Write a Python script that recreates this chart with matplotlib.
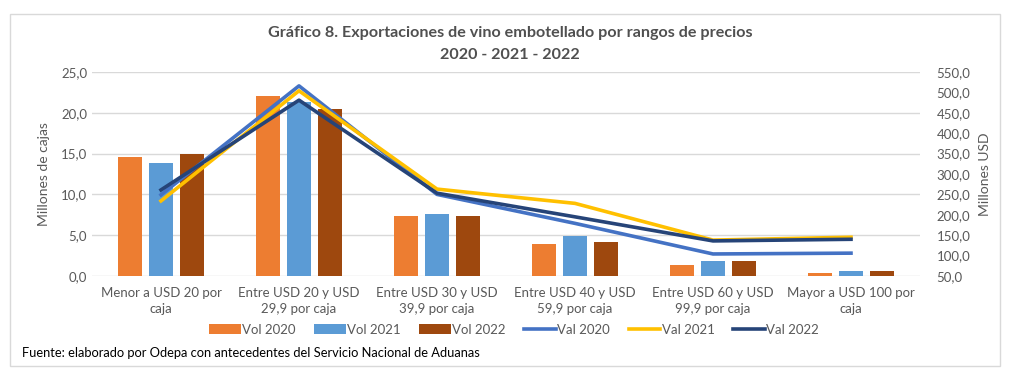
import matplotlib
matplotlib.use("Agg")
import matplotlib.pyplot as plt
import numpy as np
from matplotlib.patches import Rectangle

categories = ["Menor a USD 20 por\ncaja", "Entre USD 20 y USD\n29,9 por caja", "Entre USD 30 y USD\n39,9 por caja",
              "Entre USD 40 y USD\n59,9 por caja", "Entre USD 60 y USD\n99,9 por caja", "Mayor a USD 100 por\ncaja"]
vol_2020 = [14.6, 22.0, 7.3, 3.9, 1.35, 0.4]
vol_2021 = [13.8, 21.3, 7.6, 4.9, 1.8, 0.65]
vol_2022 = [14.9, 20.5, 7.3, 4.2, 1.8, 0.65]
val_2020 = [249, 516, 250, 179, 104, 106]
val_2021 = [234, 504, 263, 228, 138, 145]
val_2022 = [261, 481, 253, 195, 136, 140]

plt.rcParams['font.family'] = ['Lato', 'DejaVu Sans']
gray = '#595959'

fig = plt.figure(figsize=(10.24, 3.8), dpi=100)
fig.patches.append(Rectangle((10/1024, 14/380), 990/1024, 352/380, transform=fig.transFigure,
                             fill=False, edgecolor='#d9d9d9', linewidth=1))
ax = fig.add_axes([92/1024, 1-276/380, 828/1024, 204/380])
ax2 = ax.twinx()

x = np.arange(len(categories))
w = 0.175
off = 0.225
ax.bar(x - off, vol_2020, w, color='#ED7D31', label='Vol 2020', zorder=2)
ax.bar(x, vol_2021, w, color='#5B9BD5', label='Vol 2021', zorder=2)
ax.bar(x + off, vol_2022, w, color='#9E480E', label='Vol 2022', zorder=2)
ax.set_ylim(0, 25)
ax.set_yticks(np.arange(0, 25.1, 5))
ax.set_yticklabels([f"{v:.1f}".replace('.', ',') for v in np.arange(0, 25.1, 5)])
ax.grid(axis='y', color='#d9d9d9', linewidth=1, zorder=0)
ax.set_axisbelow(True)
ax.set_xlim(-0.5, len(categories) - 0.5)
ax.set_xticks(x)
ax.set_xticklabels(categories, fontsize=9.5, color=gray, linespacing=1.35)
ax.tick_params(axis='both', length=0, colors=gray, labelsize=9.5)
ax.tick_params(axis='x', pad=8)
ax.set_ylabel('Millones de cajas', fontsize=10, color=gray, labelpad=8)
for s in ax.spines.values():
    s.set_visible(False)

ax2.plot(x, val_2020, color='#4472C4', lw=2.6, label='Val 2020', zorder=3)
ax2.plot(x, val_2021, color='#FFC000', lw=2.6, label='Val 2021', zorder=3)
ax2.plot(x, val_2022, color='#264478', lw=2.6, label='Val 2022', zorder=3)
ax2.set_ylim(50, 550)
ticks2 = np.arange(50, 551, 50)
ax2.set_yticks(ticks2)
ax2.set_yticklabels([f"{v:.1f}".replace('.', ',') for v in ticks2])
ax2.tick_params(axis='y', length=0, colors=gray, labelsize=9.5, pad=12)
ax2.set_ylabel('Millones USD', fontsize=10, color=gray, labelpad=6)
for s in ax2.spines.values():
    s.set_visible(False)

fig.text(510/1024, 1-33/380, 'Gráfico 8. Exportaciones de vino embotellado por rangos de precios',
         ha='center', va='center', fontsize=11.6, fontweight='bold', color='#505050')
fig.text(510/1024, 1-55/380, '2020 - 2021 - 2022', ha='center', va='center',
         fontsize=11.6, fontweight='bold', color='#505050')

h1, l1 = ax.get_legend_handles_labels()
h2, l2 = ax2.get_legend_handles_labels()
fig.legend(h1 + h2, l1 + l2, loc='center', bbox_to_anchor=(514/1024, 1-330/380), ncol=6,
           frameon=False, fontsize=9.5, labelcolor=gray, handlelength=2.4, handleheight=0.8,
           handletextpad=0.1, columnspacing=1.4)

fig.text(22/1024, 1-353/380, 'Fuente: elaborado por Odepa con antecedentes del Servicio Nacional de Aduanas',
         ha='left', va='center', fontsize=9.3, color='black')

fig.savefig('out.png', dpi=100)
